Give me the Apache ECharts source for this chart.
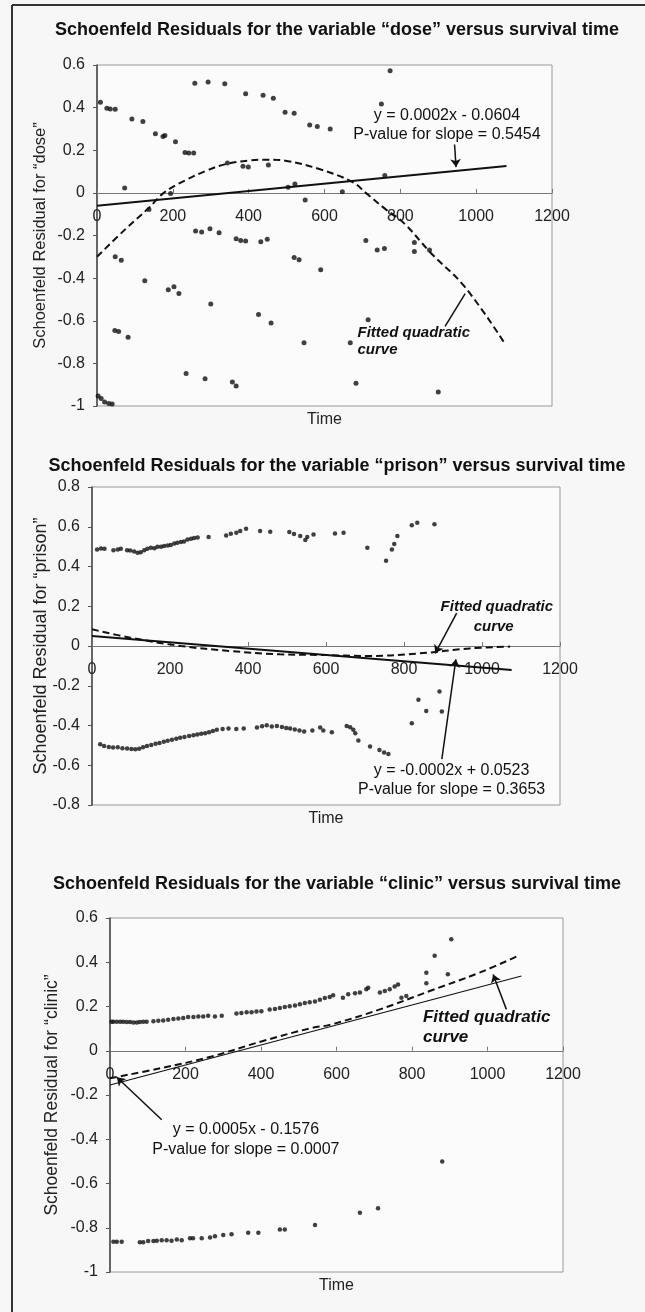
<!DOCTYPE html>
<html>
<head>
<meta charset="utf-8">
<title>Schoenfeld residuals</title>
<script src="https://cdn.jsdelivr.net/npm/echarts@6/dist/echarts.min.js"></script>
<style>
  html, body { margin: 0; padding: 0; background: #f7f7f7; }
  #chart { width: 645px; height: 1312px; }
</style>
</head>
<body>
<div id="chart"></div>
<script>
// ---- data (time, residual) ----
const dosePoints = [
  [9, 0.425], [26, 0.397], [35, 0.394], [48, 0.392], [73, 0.023], [92, 0.347], [121, 0.335],
  [154, 0.277], [174, 0.265], [179, 0.269], [207, 0.24], [232, 0.19], [242, 0.187], [255, 0.187],
  [258, 0.514], [293, 0.52], [337, 0.512], [392, 0.465], [438, 0.458], [465, 0.444], [496, 0.378],
  [520, 0.374], [561, 0.319], [581, 0.311], [615, 0.3], [344, 0.14], [385, 0.125], [399, 0.121],
  [452, 0.131], [137, -0.078], [194, -0.003], [504, 0.026], [522, 0.042], [549, -0.034], [647, 0.005],
  [759, 0.082], [750, 0.417], [773, 0.573],
  [260, -0.179], [276, -0.184], [298, -0.168], [322, -0.187], [367, -0.215], [379, -0.223], [392, -0.226],
  [432, -0.229], [449, -0.218], [520, -0.303], [533, -0.314], [590, -0.361], [48, -0.3], [64, -0.316],
  [126, -0.412], [188, -0.454], [203, -0.44], [216, -0.472], [300, -0.521], [426, -0.571], [459, -0.61],
  [546, -0.703], [47, -0.646], [57, -0.651], [82, -0.677], [235, -0.848], [285, -0.872], [357, -0.887],
  [367, -0.906], [3, -0.953], [11, -0.965], [20, -0.981], [31, -0.988], [40, -0.991], [709, -0.224],
  [739, -0.268], [758, -0.261], [837, -0.233], [837, -0.275], [877, -0.268], [715, -0.595], [668, -0.703],
  [683, -0.893], [900, -0.934]
]
const doseLinear = [[0, -0.06], [1080, 0.126]]
const doseQuad = [
  [0, -0.3], [75, -0.17], [137, -0.07], [176, 0], [233, 0.059], [290, 0.105], [339, 0.135], [400, 0.152],
  [450, 0.156], [500, 0.15], [586, 0.112], [674, 0.051], [709, 0], [760, -0.075], [810, -0.143],
  [881, -0.283], [969, -0.439], [1073, -0.7]
]

const prisonPoints = [
  [13, 0.486], [23, 0.491], [32, 0.489], [55, 0.482], [66, 0.486], [74, 0.489], [90, 0.482], [98, 0.481],
  [108, 0.476], [117, 0.469], [125, 0.472], [134, 0.482], [142, 0.489], [151, 0.494], [160, 0.492],
  [168, 0.499], [177, 0.499], [185, 0.503], [194, 0.506], [202, 0.508], [211, 0.516], [219, 0.519],
  [228, 0.523], [236, 0.526], [245, 0.536], [254, 0.539], [262, 0.543], [271, 0.546], [299, 0.549],
  [344, 0.556], [356, 0.565], [370, 0.57], [380, 0.578], [395, 0.59], [431, 0.578], [457, 0.575],
  [506, 0.573], [518, 0.564], [534, 0.553], [547, 0.533], [552, 0.549], [568, 0.561], [623, 0.566],
  [645, 0.57], [706, 0.494], [754, 0.429], [769, 0.486], [775, 0.513], [783, 0.553], [820, 0.608],
  [834, 0.62], [878, 0.613],
  [21, -0.494], [31, -0.503], [43, -0.508], [54, -0.511], [66, -0.51], [78, -0.514], [90, -0.516],
  [101, -0.518], [111, -0.519], [121, -0.517], [131, -0.51], [141, -0.503], [152, -0.498], [163, -0.492],
  [173, -0.488], [184, -0.482], [194, -0.477], [205, -0.472], [216, -0.467], [226, -0.462], [237, -0.458],
  [249, -0.453], [260, -0.449], [270, -0.445], [280, -0.442], [290, -0.439], [300, -0.434], [310, -0.428],
  [320, -0.422], [335, -0.418], [350, -0.415], [370, -0.418], [389, -0.415], [423, -0.41], [436, -0.404],
  [448, -0.399], [461, -0.405], [474, -0.402], [487, -0.408], [498, -0.412], [508, -0.415], [520, -0.42],
  [532, -0.425], [544, -0.43], [565, -0.425], [585, -0.41], [593, -0.425], [615, -0.434], [653, -0.402],
  [662, -0.409], [670, -0.422], [675, -0.439], [683, -0.476], [713, -0.506], [737, -0.523], [749, -0.536],
  [760, -0.544], [820, -0.389], [837, -0.271], [857, -0.327], [891, -0.229], [897, -0.33]
]
const prisonLinear = [[0, 0.05], [1076, -0.121]]
const prisonQuad = [
  [0, 0.084], [98, 0.042], [228, 0], [354, -0.025], [482, -0.042], [585, -0.045], [713, -0.05],
  [841, -0.037], [969, -0.012], [1072, -0.003]
]

const clinicPoints = [
  [4, 0.131], [9, 0.131], [18, 0.131], [27, 0.131], [35, 0.131], [44, 0.13], [53, 0.13], [62, 0.128],
  [71, 0.128], [79, 0.13], [88, 0.131], [97, 0.131], [115, 0.133], [128, 0.136], [141, 0.137], [154, 0.14],
  [168, 0.143], [181, 0.146], [194, 0.148], [207, 0.152], [221, 0.152], [234, 0.155], [247, 0.155],
  [260, 0.158], [278, 0.155], [296, 0.158], [335, 0.168], [348, 0.171], [362, 0.174], [375, 0.174],
  [388, 0.177], [401, 0.178], [423, 0.186], [437, 0.189], [450, 0.193], [463, 0.198], [476, 0.201],
  [490, 0.204], [503, 0.21], [516, 0.216], [529, 0.219], [543, 0.223], [556, 0.231], [569, 0.238],
  [582, 0.243], [591, 0.251], [617, 0.24], [631, 0.255], [649, 0.26], [662, 0.263], [679, 0.278],
  [684, 0.285], [715, 0.263], [728, 0.27], [741, 0.278], [754, 0.29], [763, 0.3], [772, 0.24], [785, 0.248],
  [838, 0.353], [838, 0.305], [860, 0.429], [895, 0.346], [904, 0.504],
  [9, -0.863], [18, -0.863], [31, -0.863], [79, -0.866], [88, -0.866], [101, -0.86], [115, -0.86],
  [124, -0.859], [137, -0.856], [150, -0.856], [163, -0.859], [177, -0.853], [190, -0.856], [212, -0.848],
  [220, -0.848], [243, -0.848], [265, -0.844], [278, -0.838], [300, -0.833], [322, -0.829], [366, -0.823],
  [393, -0.823], [450, -0.808], [463, -0.808], [543, -0.788], [662, -0.732], [710, -0.712], [880, -0.501]
]
const clinicLinear = [[0, -0.155], [1090, 0.338]]
const clinicQuad = [
  [0, -0.124], [137, -0.078], [269, -0.026], [401, 0.042], [534, 0.103], [582, 0.117], [715, 0.187],
  [847, 0.27], [979, 0.353], [1085, 0.432]
]

const FONT = "'Liberation Sans', Arial, sans-serif"

// one block per panel: where it sits and what it says
const panels = [
  {
    title: 'Schoenfeld Residuals for the variable \u201cdose\u201d versus survival time',
    titleTop: 16,
    yName: 'Schoenfeld Residual for \u201cdose\u201d',
    grid: { left: 97, top: 65, width: 455, height: 341 },
    yMin: -1, yMax: 0.6, nameGap: 48, nameSize: 16.5, dot: 5,
    points: dosePoints, linear: doseLinear, quad: doseQuad, linWidth: 2,
    texts: [
      { at: [923, 0.363], text: 'y = 0.0002x - 0.0604', align: 'center' },
      { at: [923, 0.274], text: 'P-value for slope = 0.5454', align: 'center' },
      { at: [687, -0.657], text: 'Fitted quadratic', align: 'left', bold: true, size: 15 },
      { at: [687, -0.735], text: 'curve', align: 'left', bold: true, size: 15 }
    ],
    arrows: [
      { from: [943, 0.227], to: [947, 0.121], head: true },
      { from: [918, -0.626], to: [971, -0.473], head: false }
    ]
  },
  {
    title: 'Schoenfeld Residuals for the variable \u201cprison\u201d versus survival time',
    titleTop: 452,
    yName: 'Schoenfeld Residual for \u201cprison\u201d',
    grid: { left: 92, top: 487, width: 468, height: 318 },
    yMin: -0.8, yMax: 0.8, nameGap: 42, nameSize: 18, dot: 4.5,
    points: prisonPoints, linear: prisonLinear, quad: prisonQuad, linWidth: 2,
    texts: [
      { at: [1038, 0.196], text: 'Fitted quadratic', align: 'center', bold: true, size: 15 },
      { at: [1030, 0.097], text: 'curve', align: 'center', bold: true, size: 15 },
      { at: [922, -0.628], text: 'y = -0.0002x + 0.0523', align: 'center' },
      { at: [922, -0.72], text: 'P-value for slope = 0.3653', align: 'center' }
    ],
    arrows: [
      { from: [935, 0.165], to: [880, -0.037], head: true },
      { from: [897, -0.569], to: [933, -0.067], head: true }
    ]
  },
  {
    title: 'Schoenfeld Residuals for the variable \u201cclinic\u201d versus survival time',
    titleTop: 870,
    yName: 'Schoenfeld Residual for \u201cclinic\u201d',
    grid: { left: 110, top: 918, width: 453, height: 354 },
    yMin: -1, yMax: 0.6, nameGap: 49, nameSize: 17.5, dot: 4.5,
    points: clinicPoints, linear: clinicLinear, quad: clinicQuad, linWidth: 1.2,
    texts: [
      { at: [829, 0.151], text: 'Fitted quadratic', align: 'left', bold: true, size: 17 },
      { at: [829, 0.061], text: 'curve', align: 'left', bold: true, size: 17 },
      { at: [360, -0.355], text: 'y = 0.0005x - 0.1576', align: 'center' },
      { at: [360, -0.445], text: 'P-value for slope = 0.0007', align: 'center' }
    ],
    arrows: [
      { from: [1050, 0.187], to: [1015, 0.345], head: true },
      { from: [137, -0.312], to: [18, -0.12], head: true }
    ]
  }
]

const option = {
  animation: false,
  backgroundColor: '#f7f7f7',
  title: [],
  grid: [],
  xAxis: [],
  yAxis: [],
  series: [],
  graphic: [
    { type: 'line', shape: { x1: 12, y1: 5, x2: 645, y2: 5 }, style: { stroke: '#333', lineWidth: 2 } },
    { type: 'line', shape: { x1: 12, y1: 5, x2: 12, y2: 1312 }, style: { stroke: '#333', lineWidth: 2 } }
  ]
}

panels.forEach((p, i) => {
  option.title.push({
    text: p.title,
    left: 332,
    textAlign: 'center',
    top: p.titleTop,
    textStyle: { fontFamily: FONT, fontSize: 18, fontWeight: 'bold', color: '#111' }
  })
  option.grid.push(Object.assign({
    show: true,
    backgroundColor: '#fbfbfb',
    borderColor: '#999',
    borderWidth: 1
  }, p.grid))

  // the labelled time axis is pulled up from the bottom onto y = 0
  const zeroShift = p.grid.height * p.yMin / (p.yMax - p.yMin)
  option.xAxis.push({
    type: 'value',
    gridIndex: i,
    position: 'bottom',
    offset: zeroShift,
    min: 0,
    max: 1200,
    interval: 200,
    axisLine: { onZero: false, lineStyle: { color: '#777', width: 1 } },
    axisTick: { inside: true, length: 4, lineStyle: { color: '#777' } },
    axisLabel: { margin: 16, fontFamily: FONT, fontSize: 16, color: '#222', formatter: v => String(v) },
    splitLine: { show: false }
  })
  // a bare axis at the bottom only carries the "Time" name
  option.xAxis.push({
    type: 'value',
    gridIndex: i,
    position: 'bottom',
    min: 0,
    max: 1200,
    name: 'Time',
    nameLocation: 'middle',
    nameGap: 6,
    nameTextStyle: { fontFamily: FONT, fontSize: 16, color: '#222', verticalAlign: 'top' },
    axisLine: { show: false, onZero: false },
    axisTick: { show: false },
    axisLabel: { show: false },
    splitLine: { show: false }
  })
  option.yAxis.push({
    type: 'value',
    gridIndex: i,
    min: p.yMin,
    max: p.yMax,
    interval: 0.2,
    name: p.yName,
    nameLocation: 'middle',
    nameGap: p.nameGap,
    nameMoveOverlap: false,
    nameTextStyle: { fontFamily: FONT, fontSize: p.nameSize, color: '#222' },
    axisLine: { show: true, onZero: false, lineStyle: { color: '#444', width: 1.5 } },
    axisTick: { show: true, length: 4, lineStyle: { color: '#555' } },
    axisLabel: { margin: 12, fontFamily: FONT, fontSize: 16, color: '#222' },
    splitLine: { show: false }
  })

  const xi = i * 2
  option.series.push({
    type: 'line',
    xAxisIndex: xi,
    yAxisIndex: i,
    data: p.linear,
    symbol: 'none',
    lineStyle: { color: '#111', width: p.linWidth }
  })
  option.series.push({
    type: 'line',
    xAxisIndex: xi,
    yAxisIndex: i,
    data: p.quad,
    smooth: 0.4,
    symbol: 'none',
    lineStyle: { color: '#111', width: 2, type: [7, 4] }
  })
  option.series.push({
    type: 'scatter',
    xAxisIndex: xi,
    yAxisIndex: i,
    data: p.points,
    symbol: 'circle',
    symbolSize: p.dot,
    itemStyle: { color: '#111' },
    markLine: {
      silent: true,
      symbolSize: 8,
      label: { show: false },
      lineStyle: { color: '#111', width: 1.5, type: 'solid' },
      data: p.arrows.map(a => [
        { coord: a.from, symbol: 'none' },
        { coord: a.to, symbol: a.head ? 'arrow' : 'none' }
      ])
    },
    markPoint: {
      silent: true,
      data: p.texts.map(t => ({
        coord: t.at,
        symbol: 'circle',
        symbolSize: 0,
        label: {
          show: true,
          position: 'inside',
          formatter: t.text,
          align: t.align,
          verticalAlign: 'middle',
          fontFamily: FONT,
          fontSize: t.size || 16,
          fontWeight: t.bold ? 'bold' : 'normal',
          fontStyle: t.bold ? 'italic' : 'normal',
          color: '#111'
        }
      }))
    }
  })
})

const chart = echarts.init(document.getElementById('chart'))
chart.setOption(option)
</script>
</body>
</html>
